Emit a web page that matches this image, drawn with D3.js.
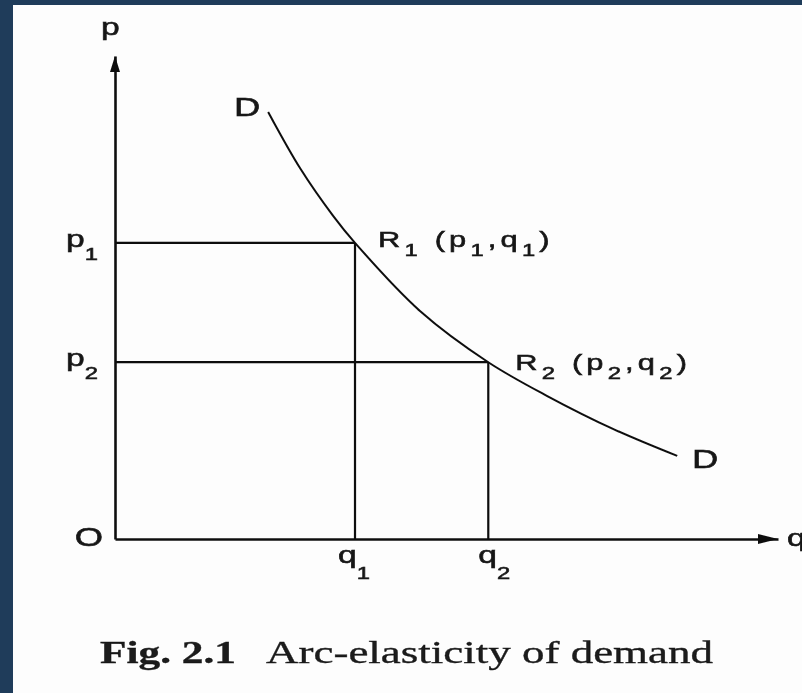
<!DOCTYPE html>
<html>
<head>
<meta charset="utf-8">
<script src="https://cdn.jsdelivr.net/npm/d3@7"></script>
<style>
    html, body { margin: 0; padding: 0; background: #1f3c5a; overflow: hidden; }
    svg { display: block; }
    .lbl { font-family: "Liberation Sans", Arial, sans-serif; fill: #151515; stroke: #151515; stroke-width: 0.55; }
    .caption { font-family: "Liberation Serif", "Times New Roman", serif; fill: #1a1a1a; stroke: #1a1a1a; stroke-width: 0.35; }
</style>
</head>
<body>
<svg id="chart"></svg>
<script>
// Demand curve D-D (quantity, price in chart units 0-100)
const demandQ = [23.1, 27.9, 32.9, 36.2, 46.0, 56.3, 65.2, 75.1, 84.8];
const demandP = [88.4, 76.8, 66.9, 61.3, 47.2, 36.6, 29.6, 22.8, 17.2];

// The two points R1, R2 on the curve
const pointIds = ['1', '2'];
const pointQ = [36.2, 56.3];
const pointP = [61.3, 36.6];

// Caption
const captionBold = 'Fig. 2.1';
const captionText = 'Arc-elasticity of demand';

// Layout constants
const VIZ = {
    width: 802,
    height: 693,
    paper: { x: 13, y: 5 },
    plot: { left: 115, right: 778, top: 56, bottom: 539 },
    stretch: 1.4,      // the scanned figure is wider than it is tall
    ink: '#111'
};

const svg = d3.select('#chart')
    .attr('width', VIZ.width)
    .attr('height', VIZ.height);

// slight softness, like the scan
svg.append('defs').append('filter')
    .attr('id', 'soft')
    .append('feGaussianBlur')
    .attr('stdDeviation', 0.45);

// white page on the dark slide
svg.append('rect')
    .attr('x', VIZ.paper.x)
    .attr('y', VIZ.paper.y)
    .attr('width', VIZ.width - VIZ.paper.x)
    .attr('height', VIZ.height - VIZ.paper.y)
    .attr('fill', '#fdfdfd');

const g = svg.append('g').attr('filter', 'url(#soft)');

const x = d3.scaleLinear().domain([0, 100])
    .range([VIZ.plot.left, VIZ.plot.right]);
const y = d3.scaleLinear().domain([0, 100])
    .range([VIZ.plot.bottom, VIZ.plot.top]);

// Axes: bare lines, no ticks
const axisX = g.append('g')
    .attr('transform', `translate(0,${y(0)})`)
    .call(d3.axisBottom(x).tickValues([]).tickSizeOuter(0));
const axisY = g.append('g')
    .attr('transform', `translate(${x(0)},0)`)
    .call(d3.axisLeft(y).tickValues([]).tickSizeOuter(0));
[axisX, axisY].forEach(a => a.select('.domain')
    .attr('stroke', VIZ.ink)
    .attr('stroke-width', 2.6));

// Arrow heads
g.append('path')
    .attr('d', `M${x(0)},${y(100)} L${x(0) - 5},${y(100) + 16} L${x(0) + 5},${y(100) + 16} Z`)
    .attr('fill', VIZ.ink);
g.append('path')
    .attr('d', `M${x(100)},${y(0)} L${x(100) - 20},${y(0) - 5} L${x(100) - 20},${y(0) + 5} Z`)
    .attr('fill', VIZ.ink);

// Guide lines from R1, R2 to the axes
pointIds.forEach((id, i) => {
    g.append('line')
        .attr('x1', x(0)).attr('x2', x(pointQ[i]))
        .attr('y1', y(pointP[i])).attr('y2', y(pointP[i]))
        .attr('stroke', VIZ.ink).attr('stroke-width', 2.2);
    g.append('line')
        .attr('x1', x(pointQ[i])).attr('x2', x(pointQ[i]))
        .attr('y1', y(pointP[i])).attr('y2', y(0))
        .attr('stroke', VIZ.ink).attr('stroke-width', 2.2);
});

// Demand curve
const demand = demandQ.map((q, i) => ({ q: q, p: demandP[i] }));
g.append('path')
    .datum(demand)
    .attr('fill', 'none')
    .attr('stroke', VIZ.ink)
    .attr('stroke-width', 2)
    .attr('d', d3.line()
        .x(d => x(d.q))
        .y(d => y(d.p))
        .curve(d3.curveCatmullRom));

/**
 * Text label made of parts; parts marked sub are dropped as subscripts
 */
function addLabel(px, py, parts, opts) {
    const o = Object.assign({ size: 24, sub: 17, drop: 13, anchor: 'start', spacing: 0 }, opts);
    const t = g.append('text')
        .attr('class', 'lbl')
        .attr('transform', `translate(${px},${py}) scale(${VIZ.stretch},1)`)
        .attr('font-size', o.size)
        .attr('text-anchor', o.anchor)
        .attr('letter-spacing', o.spacing);
    let shift = 0;
    parts.forEach(p => {
        const isSub = Array.isArray(p);
        const txt = isSub ? p[0] : p;
        const target = isSub ? o.drop : 0;
        t.append('tspan')
            .attr('dy', target - shift)
            .attr('font-size', isSub ? o.sub : o.size)
            .text(txt);
        shift = target;
    });
    return t;
}

// Axis names and origin
addLabel(x(0) - 14, y(100) - 21, ['p']);
addLabel(x(100) + 9, y(0) + 7, ['q']);
addLabel(x(0) - 26, y(0) + 7, ['O'], { size: 26, anchor: 'middle' });

// Demand curve ends
addLabel(x(demandQ[0]) - 21, y(demandP[0]) + 4, ['D'], { size: 26, anchor: 'middle' });
const last = demandQ.length - 1;
addLabel(x(demandQ[last]) + 28, y(demandP[last]) + 12, ['D'], { size: 26, anchor: 'middle' });

// Price and quantity marks
pointIds.forEach((id, i) => {
    addLabel(x(0) - 49, y(pointP[i]) + 4, ['p', [id]]);
    addLabel(x(pointQ[i]) - (i === 0 ? 17 : 10), y(0) + 24, ['q', [id]], { drop: 16 });
});

// Point labels R1 (p1,q1), R2 (p2,q2)
pointIds.forEach((id, i) => {
    addLabel(x(pointQ[i]) + (i === 0 ? 23 : 27), y(pointP[i]) + (i === 0 ? 4 : 8),
        ['R', [id], ' (p', [id], ',q', [id], ')'],
        { size: 22, sub: 17, drop: 9, spacing: 3 });
});

// Caption
const cap = g.append('text')
    .attr('class', 'caption')
    .attr('y', 663)
    .attr('font-size', 32);
cap.append('tspan')
    .attr('x', 100)
    .attr('font-weight', 'bold')
    .attr('textLength', 136)
    .attr('lengthAdjust', 'spacingAndGlyphs')
    .text(captionBold);
cap.append('tspan')
    .attr('x', 266)
    .attr('textLength', 447)
    .attr('lengthAdjust', 'spacingAndGlyphs')
    .text(captionText);
</script>
</body>
</html>
